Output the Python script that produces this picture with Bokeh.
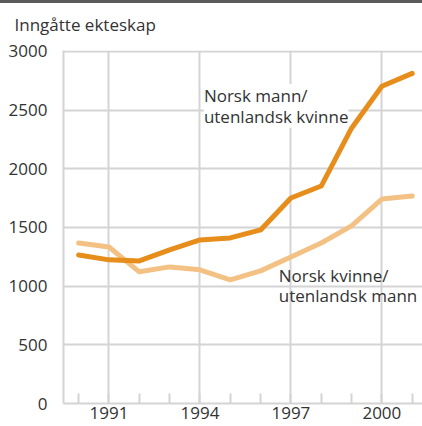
from bokeh.plotting import figure
from bokeh.models import FixedTicker, Label, Range1d, Title
from bokeh.embed import file_html
from bokeh.resources import INLINE

years = list(range(1990, 2002))
mann_utenl_kvinne = [1266, 1224, 1215, 1309, 1394, 1411, 1479, 1751, 1853, 2346, 2703, 2813]
kvinne_utenl_mann = [1368, 1334, 1122, 1164, 1139, 1054, 1130, 1249, 1368, 1513, 1742, 1768]
x_tick_labels = {1991: "1991", 1994: "1994", 1997: "1997", 2000: "2000"}
y_ticks = [0, 500, 1000, 1500, 2000, 2500, 3000]

FONT = "Open Sans"
TXT = "#333333"
GRID = "#d4d4d4"
DARK = "#e68d1b"
LIGHT = "#f4c185"

p = figure(width=422, height=431, output_backend="svg", toolbar_location=None,
           x_range=Range1d(1989.5, 2001.34), y_range=Range1d(0, 3008),
           min_border_left=63, min_border_right=0, min_border_top=55,
           min_border_bottom=23,
           styles={"position": "absolute", "top": "-5px", "left": "0px",
                   "background": "linear-gradient(to bottom, white 0px, white 5px, #5a5a5a 5px, #5a5a5a 8px, white 8px, white 100%)"})
p.outline_line_color = None
p.border_fill_color = None
p.background_fill_color = "white"

p.title = Title(text="Inngåtte ekteskap", align="left", offset=-49,
                text_font=FONT, text_font_size="17px", text_color=TXT,
                text_font_style="normal", standoff=30)

p.xaxis.ticker = FixedTicker(ticks=years)
p.xaxis.major_label_overrides = {y: x_tick_labels.get(y, "") for y in years}
p.xaxis.major_tick_in = 10
p.xaxis.major_tick_out = 0
p.xaxis.minor_tick_line_color = None
p.xaxis.axis_line_color = GRID
p.xaxis.axis_line_width = 2
p.xaxis.major_tick_line_color = GRID
p.xaxis.major_tick_line_width = 2
p.xaxis.major_label_standoff = 3

p.yaxis.ticker = FixedTicker(ticks=y_ticks)
p.yaxis.major_tick_line_color = None
p.yaxis.minor_tick_line_color = None
p.yaxis.axis_line_color = GRID
p.yaxis.axis_line_width = 2
p.yaxis.major_label_standoff = 10

for ax in (p.xaxis, p.yaxis):
    ax.major_label_text_font = FONT
    ax.major_label_text_font_size = "17px"
    ax.major_label_text_color = TXT

p.xgrid.ticker = FixedTicker(ticks=list(x_tick_labels.keys()))
p.ygrid.ticker = FixedTicker(ticks=y_ticks)
for g in (p.xgrid, p.ygrid):
    g.grid_line_color = GRID
    g.grid_line_width = 2

p.line(years, kvinne_utenl_mann, line_color=LIGHT, line_width=5, line_cap="round", line_join="round")
p.line(years, mann_utenl_kvinne, line_color=DARK, line_width=5, line_cap="round", line_join="round")

def lab(x, y, t, bg=None):
    p.add_layout(Label(x=x, y=y, text=t, text_font=FONT, text_font_size="17px",
                       text_color=TXT, text_baseline="middle", text_align="left",
                       background_fill_color=bg))

lab(1994.13, 2625, "Norsk mann/", "white")
lab(1994.13, 2447, "utenlandsk kvinne", "white")
lab(1996.6, 1088, "Norsk kvinne/")
lab(1996.6, 918, "utenlandsk mann")

open("out.html", "w").write(file_html(p, INLINE))
